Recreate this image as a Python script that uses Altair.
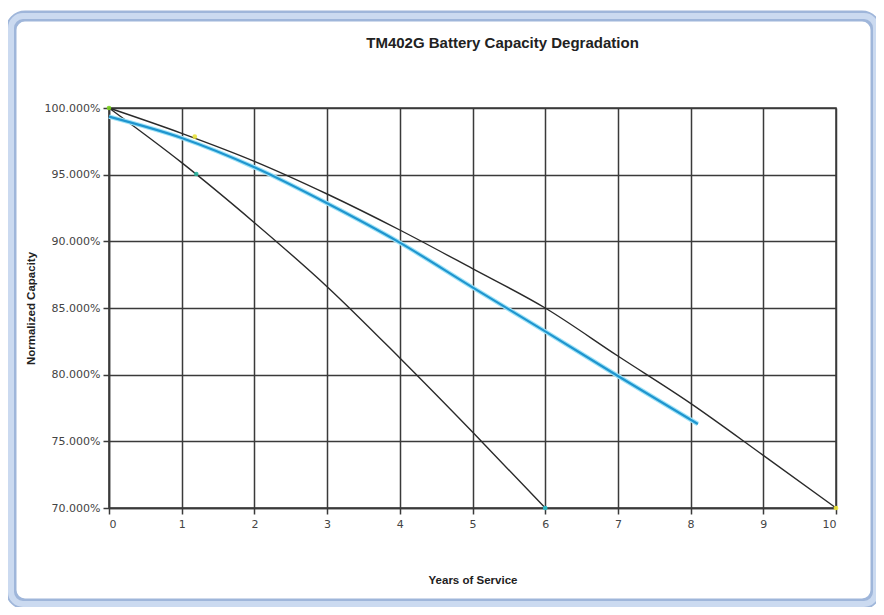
import altair as alt
import pandas as pd

# Series (capacity in %)
years_slow = [0, 1, 2, 3, 4, 5, 6, 7, 8, 9, 10]
cap_slow = [100.0, 98.1, 96.0, 93.55, 90.85, 87.95, 85.0, 81.4, 77.85, 73.95, 70.0]

years_fast = [0, 1, 2, 3, 4, 5, 6]
cap_fast = [100.0, 95.9, 91.4, 86.6, 81.25, 75.7, 70.0]

years_meas = [0, 1, 2, 3, 4, 5, 6, 7, 8.1]
cap_meas = [99.35, 97.75, 95.55, 92.85, 89.9, 86.55, 83.25, 79.9, 76.3]

marker_years = [0, 1.18, 1.2, 6, 10]
marker_caps = [100.0, 97.85, 95.05, 70.0, 70.0]
marker_colors = ["#7ed321", "#e8e23a", "#2bb5a0", "#2bc4d0", "#f2ea3a"]

title_text = "TM402G Battery Capacity Degradation"
x_title = "Years of Service"
y_title = "Normalized Capacity"

df_slow = pd.DataFrame({"year": years_slow, "cap": [c / 100 for c in cap_slow]})
df_fast = pd.DataFrame({"year": years_fast, "cap": [c / 100 for c in cap_fast]})
df_meas = pd.DataFrame({"year": years_meas, "cap": [c / 100 for c in cap_meas]})
df_mark = pd.DataFrame({"year": marker_years, "cap": [c / 100 for c in marker_caps],
                        "color": marker_colors})

xscale = alt.Scale(domain=[0, 10], nice=False, zero=False)
yscale = alt.Scale(domain=[0.70, 1.00], nice=False, zero=False)

x_enc = alt.X("year:Q", scale=xscale, title=x_title,
              axis=alt.Axis(values=list(range(0, 11)), format="d",
                            labelFont="DejaVu Sans", labelFontSize=11, labelColor="#444",
                            labelPadding=4, tickSize=6, tickColor="#3a3a3a", tickWidth=1.5,
                            domainColor="#3a3a3a", domainWidth=1.5,
                            grid=True, gridColor="#3a3a3a", gridWidth=1.5,
                            titleFont="Liberation Sans", titleFontSize=11.5,
                            titleFontWeight="bold", titleColor="#222", titlePadding=45))
y_enc = alt.Y("cap:Q", scale=yscale, title=y_title,
              axis=alt.Axis(values=[0.70, 0.75, 0.80, 0.85, 0.90, 0.95, 1.00], format=".3%",
                            labelFont="DejaVu Sans", labelFontSize=11, labelColor="#444",
                            labelPadding=3, tickSize=6, tickColor="#3a3a3a", tickWidth=1.5,
                            domainColor="#3a3a3a", domainWidth=1.5,
                            grid=True, gridColor="#3a3a3a", gridWidth=1.5,
                            titleFont="Liberation Sans", titleFontSize=11.5,
                            titleFontWeight="bold", titleColor="#222", titlePadding=8))

base_frame = pd.DataFrame({"k": [0]})
frame_outer = alt.Chart(base_frame).mark_rect(
    fill=None, stroke="#9fb6da", strokeWidth=11, cornerRadius=14
).encode(x=alt.value(-98), x2=alt.value(767), y=alt.value(-92), y2=alt.value(496))
frame_inner = alt.Chart(base_frame).mark_rect(
    fill=None, stroke="#cbdaf0", strokeWidth=6, cornerRadius=12
).encode(x=alt.value(-98), x2=alt.value(767), y=alt.value(-92), y2=alt.value(496))

slow = alt.Chart(df_slow).mark_line(color="#2a2a2a", strokeWidth=1.4, interpolate="monotone").encode(
    x=x_enc, y=y_enc)
fast = alt.Chart(df_fast).mark_line(color="#2a2a2a", strokeWidth=1.4, interpolate="monotone").encode(
    x="year:Q", y="cap:Q")
meas_halo = alt.Chart(df_meas).mark_line(color="#9fe3f7", strokeWidth=4.5, interpolate="monotone").encode(
    x="year:Q", y="cap:Q")
meas = alt.Chart(df_meas).mark_line(color="#1f95cf", strokeWidth=2.2, interpolate="monotone").encode(
    x="year:Q", y="cap:Q")
marks = alt.Chart(df_mark).mark_circle(size=22, opacity=0.9).encode(
    x="year:Q", y="cap:Q", color=alt.Color("color:N", scale=None))

chart = alt.layer(frame_outer, frame_inner, slow, fast, meas_halo, meas, marks).properties(
    width=727, height=400,
    title=alt.TitleParams(title_text, font="Liberation Sans", fontSize=15, fontWeight="bold",
                          color="#222", anchor="middle", frame="group", dx=30, offset=-40),
    autosize=alt.AutoSizeParams(type="none"),
    padding={"left": 101, "top": 100, "right": 40, "bottom": 99},
    background="white",
).configure_view(stroke="#3a3a3a", strokeWidth=1.5)

chart.save("out.html", embed_options={"renderer": "svg", "actions": False})
